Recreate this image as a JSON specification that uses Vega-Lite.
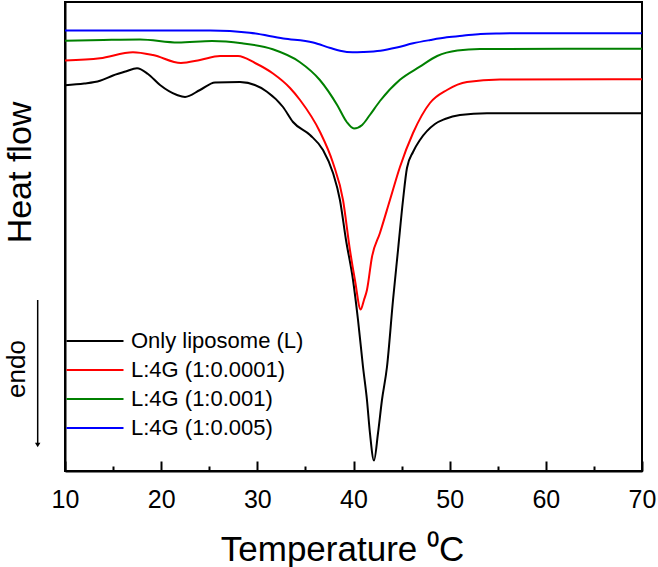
{
  "$schema": "https://vega.github.io/schema/vega-lite/v6.json",
  "width": 577,
  "height": 469,
  "autosize": "none",
  "padding": {"left": 65, "top": 2, "right": 16, "bottom": 96},
  "background": "white",
  "config": {
    "view": {"stroke": "black", "strokeWidth": 2},
    "font": "Liberation Sans"
  },
  "datasets": {
    "dsc": [
      {"s": "Only liposome (L)", "T": 10, "v": 385.8},
      {"s": "Only liposome (L)", "T": 12, "v": 387.5},
      {"s": "Only liposome (L)", "T": 13.64, "v": 390.3},
      {"s": "Only liposome (L)", "T": 14.99, "v": 395.5},
      {"s": "Only liposome (L)", "T": 16.3, "v": 399.5},
      {"s": "Only liposome (L)", "T": 17.49, "v": 402.7},
      {"s": "Only liposome (L)", "T": 18.63, "v": 397},
      {"s": "Only liposome (L)", "T": 19.88, "v": 386},
      {"s": "Only liposome (L)", "T": 21.65, "v": 376},
      {"s": "Only liposome (L)", "T": 22.48, "v": 374},
      {"s": "Only liposome (L)", "T": 24.04, "v": 381},
      {"s": "Only liposome (L)", "T": 25.6, "v": 388.5},
      {"s": "Only liposome (L)", "T": 28.2, "v": 389},
      {"s": "Only liposome (L)", "T": 31.0, "v": 379.3},
      {"s": "Only liposome (L)", "T": 32.67, "v": 364},
      {"s": "Only liposome (L)", "T": 33.71, "v": 349},
      {"s": "Only liposome (L)", "T": 35.48, "v": 336},
      {"s": "Only liposome (L)", "T": 36.83, "v": 321},
      {"s": "Only liposome (L)", "T": 37.87, "v": 298},
      {"s": "Only liposome (L)", "T": 38.59, "v": 271},
      {"s": "Only liposome (L)", "T": 39.22, "v": 231},
      {"s": "Only liposome (L)", "T": 39.95, "v": 191},
      {"s": "Only liposome (L)", "T": 40.47, "v": 151},
      {"s": "Only liposome (L)", "T": 40.99, "v": 104},
      {"s": "Only liposome (L)", "T": 41.4, "v": 71},
      {"s": "Only liposome (L)", "T": 41.71, "v": 38},
      {"s": "Only liposome (L)", "T": 42.13, "v": 10.5},
      {"s": "Only liposome (L)", "T": 42.55, "v": 38},
      {"s": "Only liposome (L)", "T": 42.96, "v": 71},
      {"s": "Only liposome (L)", "T": 43.48, "v": 104},
      {"s": "Only liposome (L)", "T": 44.11, "v": 171},
      {"s": "Only liposome (L)", "T": 44.63, "v": 221},
      {"s": "Only liposome (L)", "T": 45.15, "v": 271},
      {"s": "Only liposome (L)", "T": 45.56, "v": 303},
      {"s": "Only liposome (L)", "T": 46.19, "v": 319},
      {"s": "Only liposome (L)", "T": 46.91, "v": 331},
      {"s": "Only liposome (L)", "T": 48.47, "v": 347},
      {"s": "Only liposome (L)", "T": 49.51, "v": 352},
      {"s": "Only liposome (L)", "T": 51.07, "v": 356},
      {"s": "Only liposome (L)", "T": 53.88, "v": 357.7},
      {"s": "Only liposome (L)", "T": 70, "v": 357.7},

      {"s": "L:4G (1:0.0001)", "T": 10, "v": 410.5},
      {"s": "L:4G (1:0.0001)", "T": 13.64, "v": 412.7},
      {"s": "L:4G (1:0.0001)", "T": 17.07, "v": 418.8},
      {"s": "L:4G (1:0.0001)", "T": 19.15, "v": 416},
      {"s": "L:4G (1:0.0001)", "T": 22.06, "v": 408},
      {"s": "L:4G (1:0.0001)", "T": 24.04, "v": 411},
      {"s": "L:4G (1:0.0001)", "T": 26.12, "v": 415},
      {"s": "L:4G (1:0.0001)", "T": 27.99, "v": 415},
      {"s": "L:4G (1:0.0001)", "T": 29.76, "v": 408},
      {"s": "L:4G (1:0.0001)", "T": 31.63, "v": 397.5},
      {"s": "L:4G (1:0.0001)", "T": 33.4, "v": 383},
      {"s": "L:4G (1:0.0001)", "T": 34.44, "v": 371},
      {"s": "L:4G (1:0.0001)", "T": 36.52, "v": 339},
      {"s": "L:4G (1:0.0001)", "T": 37.87, "v": 308},
      {"s": "L:4G (1:0.0001)", "T": 38.91, "v": 271},
      {"s": "L:4G (1:0.0001)", "T": 39.63, "v": 221},
      {"s": "L:4G (1:0.0001)", "T": 40.15, "v": 191},
      {"s": "L:4G (1:0.0001)", "T": 40.75, "v": 161.5},
      {"s": "L:4G (1:0.0001)", "T": 41.09, "v": 171},
      {"s": "L:4G (1:0.0001)", "T": 41.4, "v": 181},
      {"s": "L:4G (1:0.0001)", "T": 41.92, "v": 214},
      {"s": "L:4G (1:0.0001)", "T": 42.75, "v": 238},
      {"s": "L:4G (1:0.0001)", "T": 43.79, "v": 271},
      {"s": "L:4G (1:0.0001)", "T": 44.83, "v": 304},
      {"s": "L:4G (1:0.0001)", "T": 46.19, "v": 338},
      {"s": "L:4G (1:0.0001)", "T": 47.95, "v": 368},
      {"s": "L:4G (1:0.0001)", "T": 49.72, "v": 381},
      {"s": "L:4G (1:0.0001)", "T": 51.8, "v": 389},
      {"s": "L:4G (1:0.0001)", "T": 55.23, "v": 391.5},
      {"s": "L:4G (1:0.0001)", "T": 70, "v": 391.7},

      {"s": "L:4G (1:0.001)", "T": 10, "v": 430.2},
      {"s": "L:4G (1:0.001)", "T": 14, "v": 431},
      {"s": "L:4G (1:0.001)", "T": 17.8, "v": 431.5},
      {"s": "L:4G (1:0.001)", "T": 21.75, "v": 428.5},
      {"s": "L:4G (1:0.001)", "T": 25.3, "v": 430},
      {"s": "L:4G (1:0.001)", "T": 28.4, "v": 427.7},
      {"s": "L:4G (1:0.001)", "T": 31.6, "v": 421.7},
      {"s": "L:4G (1:0.001)", "T": 34.4, "v": 409},
      {"s": "L:4G (1:0.001)", "T": 36.5, "v": 391},
      {"s": "L:4G (1:0.001)", "T": 38.3, "v": 366},
      {"s": "L:4G (1:0.001)", "T": 39.3, "v": 349},
      {"s": "L:4G (1:0.001)", "T": 40.05, "v": 342.5},
      {"s": "L:4G (1:0.001)", "T": 40.9, "v": 346},
      {"s": "L:4G (1:0.001)", "T": 41.7, "v": 356},
      {"s": "L:4G (1:0.001)", "T": 42.75, "v": 370},
      {"s": "L:4G (1:0.001)", "T": 44.8, "v": 391},
      {"s": "L:4G (1:0.001)", "T": 46.9, "v": 404.3},
      {"s": "L:4G (1:0.001)", "T": 48.7, "v": 415},
      {"s": "L:4G (1:0.001)", "T": 50.8, "v": 420.5},
      {"s": "L:4G (1:0.001)", "T": 53.15, "v": 422},
      {"s": "L:4G (1:0.001)", "T": 70, "v": 422.2},

      {"s": "L:4G (1:0.005)", "T": 10, "v": 440.5},
      {"s": "L:4G (1:0.005)", "T": 25.1, "v": 440.5},
      {"s": "L:4G (1:0.005)", "T": 29.2, "v": 438.3},
      {"s": "L:4G (1:0.005)", "T": 32.7, "v": 432.5},
      {"s": "L:4G (1:0.005)", "T": 35.8, "v": 428.5},
      {"s": "L:4G (1:0.005)", "T": 37.6, "v": 423},
      {"s": "L:4G (1:0.005)", "T": 38.6, "v": 420.3},
      {"s": "L:4G (1:0.005)", "T": 39.9, "v": 418.7},
      {"s": "L:4G (1:0.005)", "T": 41.0, "v": 419},
      {"s": "L:4G (1:0.005)", "T": 42.8, "v": 420.3},
      {"s": "L:4G (1:0.005)", "T": 44.5, "v": 423.5},
      {"s": "L:4G (1:0.005)", "T": 46.2, "v": 427.7},
      {"s": "L:4G (1:0.005)", "T": 48.0, "v": 431},
      {"s": "L:4G (1:0.005)", "T": 49.7, "v": 433.7},
      {"s": "L:4G (1:0.005)", "T": 51.5, "v": 435.5},
      {"s": "L:4G (1:0.005)", "T": 53.2, "v": 437},
      {"s": "L:4G (1:0.005)", "T": 55.2, "v": 437.5},
      {"s": "L:4G (1:0.005)", "T": 57.3, "v": 437.7},
      {"s": "L:4G (1:0.005)", "T": 70, "v": 437.7}
    ],
    "note": [
      {"label": "endo", "T": 5.84, "v": 102}
    ],
    "arrow": [
      {"T": 7.16, "v": 171, "v2": 26}
    ]
  },
  "layer": [
    {
      "data": {"name": "dsc"},
      "mark": {"type": "line", "strokeWidth": 2, "interpolate": "monotone"},
      "encoding": {
        "x": {
          "field": "T", "type": "quantitative",
          "scale": {"domain": [10, 70], "nice": false, "zero": false},
          "axis": {
            "title": "Temperature ⁰C",
            "values": [10, 15, 20, 25, 30, 35, 40, 45, 50, 55, 60, 65, 70],
            "labelExpr": "datum.value % 10 === 0 ? datum.label : ''",
            "tickSize": {"condition": {"test": "datum.value % 10 === 0", "value": -10}, "value": -5},
            "tickWidth": 2,
            "tickColor": "black",
            "domainColor": "black",
            "domainWidth": 2,
            "grid": false,
            "labelFont": "Liberation Sans",
            "labelFontSize": 25,
            "labelColor": "black",
            "labelPadding": 26,
            "labelFlush": false,
            "labelOverlap": false,
            "titleFont": "Liberation Sans",
            "titleFontSize": 35,
            "titleFontWeight": "normal",
            "titleColor": "black",
            "titleBaseline": "alphabetic",
            "titleX": 277,
            "titleY": 89
          }
        },
        "y": {
          "field": "v", "type": "quantitative",
          "scale": {"domain": [0, 469], "nice": false, "zero": false},
          "axis": {
            "title": "Heat flow",
            "labels": false,
            "ticks": false,
            "grid": false,
            "domainColor": "black",
            "domainWidth": 2,
            "titleFont": "Liberation Sans",
            "titleFontSize": 34,
            "titleFontWeight": "normal",
            "titleColor": "black",
            "titleAngle": -90,
            "titleBaseline": "alphabetic",
            "titleAlign": "center",
            "titleX": -35,
            "titleY": 170
          }
        },
        "color": {
          "field": "s", "type": "nominal",
          "scale": {
            "domain": ["Only liposome (L)", "L:4G (1:0.0001)", "L:4G (1:0.001)", "L:4G (1:0.005)"],
            "range": ["#000000", "#ff0000", "#008000", "#0000ff"]
          },
          "legend": {
            "title": null,
            "orient": "none",
            "legendX": 0,
            "legendY": 328,
            "padding": 0,
            "symbolType": "M-1,0H5",
            "symbolSize": 361,
            "symbolStrokeWidth": 2,
            "labelFont": "Liberation Sans",
            "labelFontSize": 22,
            "labelColor": "black",
            "labelLimit": 0,
            "labelOffset": 44,
            "rowPadding": 7
          }
        }
      }
    },
    {
      "data": {"name": "note"},
      "mark": {"type": "text", "angle": 270, "baseline": "alphabetic", "align": "center", "font": "Liberation Sans", "color": "black"},
      "encoding": {
        "x": {"field": "T", "type": "quantitative"},
        "y": {"field": "v", "type": "quantitative"},
        "text": {"field": "label"},
        "size": {"value": 26}
      }
    },
    {
      "data": {"name": "arrow"},
      "mark": {"type": "rule", "strokeWidth": 1.5, "color": "black"},
      "encoding": {
        "x": {"field": "T", "type": "quantitative"},
        "y": {"field": "v", "type": "quantitative"},
        "y2": {"field": "v2"}
      }
    },
    {
      "data": {"name": "arrow"},
      "mark": {"type": "point", "shape": "triangle-down", "filled": true, "size": 30, "color": "black", "opacity": 1},
      "encoding": {
        "x": {"field": "T", "type": "quantitative"},
        "y": {"field": "v2", "type": "quantitative"}
      }
    }
  ]
}
